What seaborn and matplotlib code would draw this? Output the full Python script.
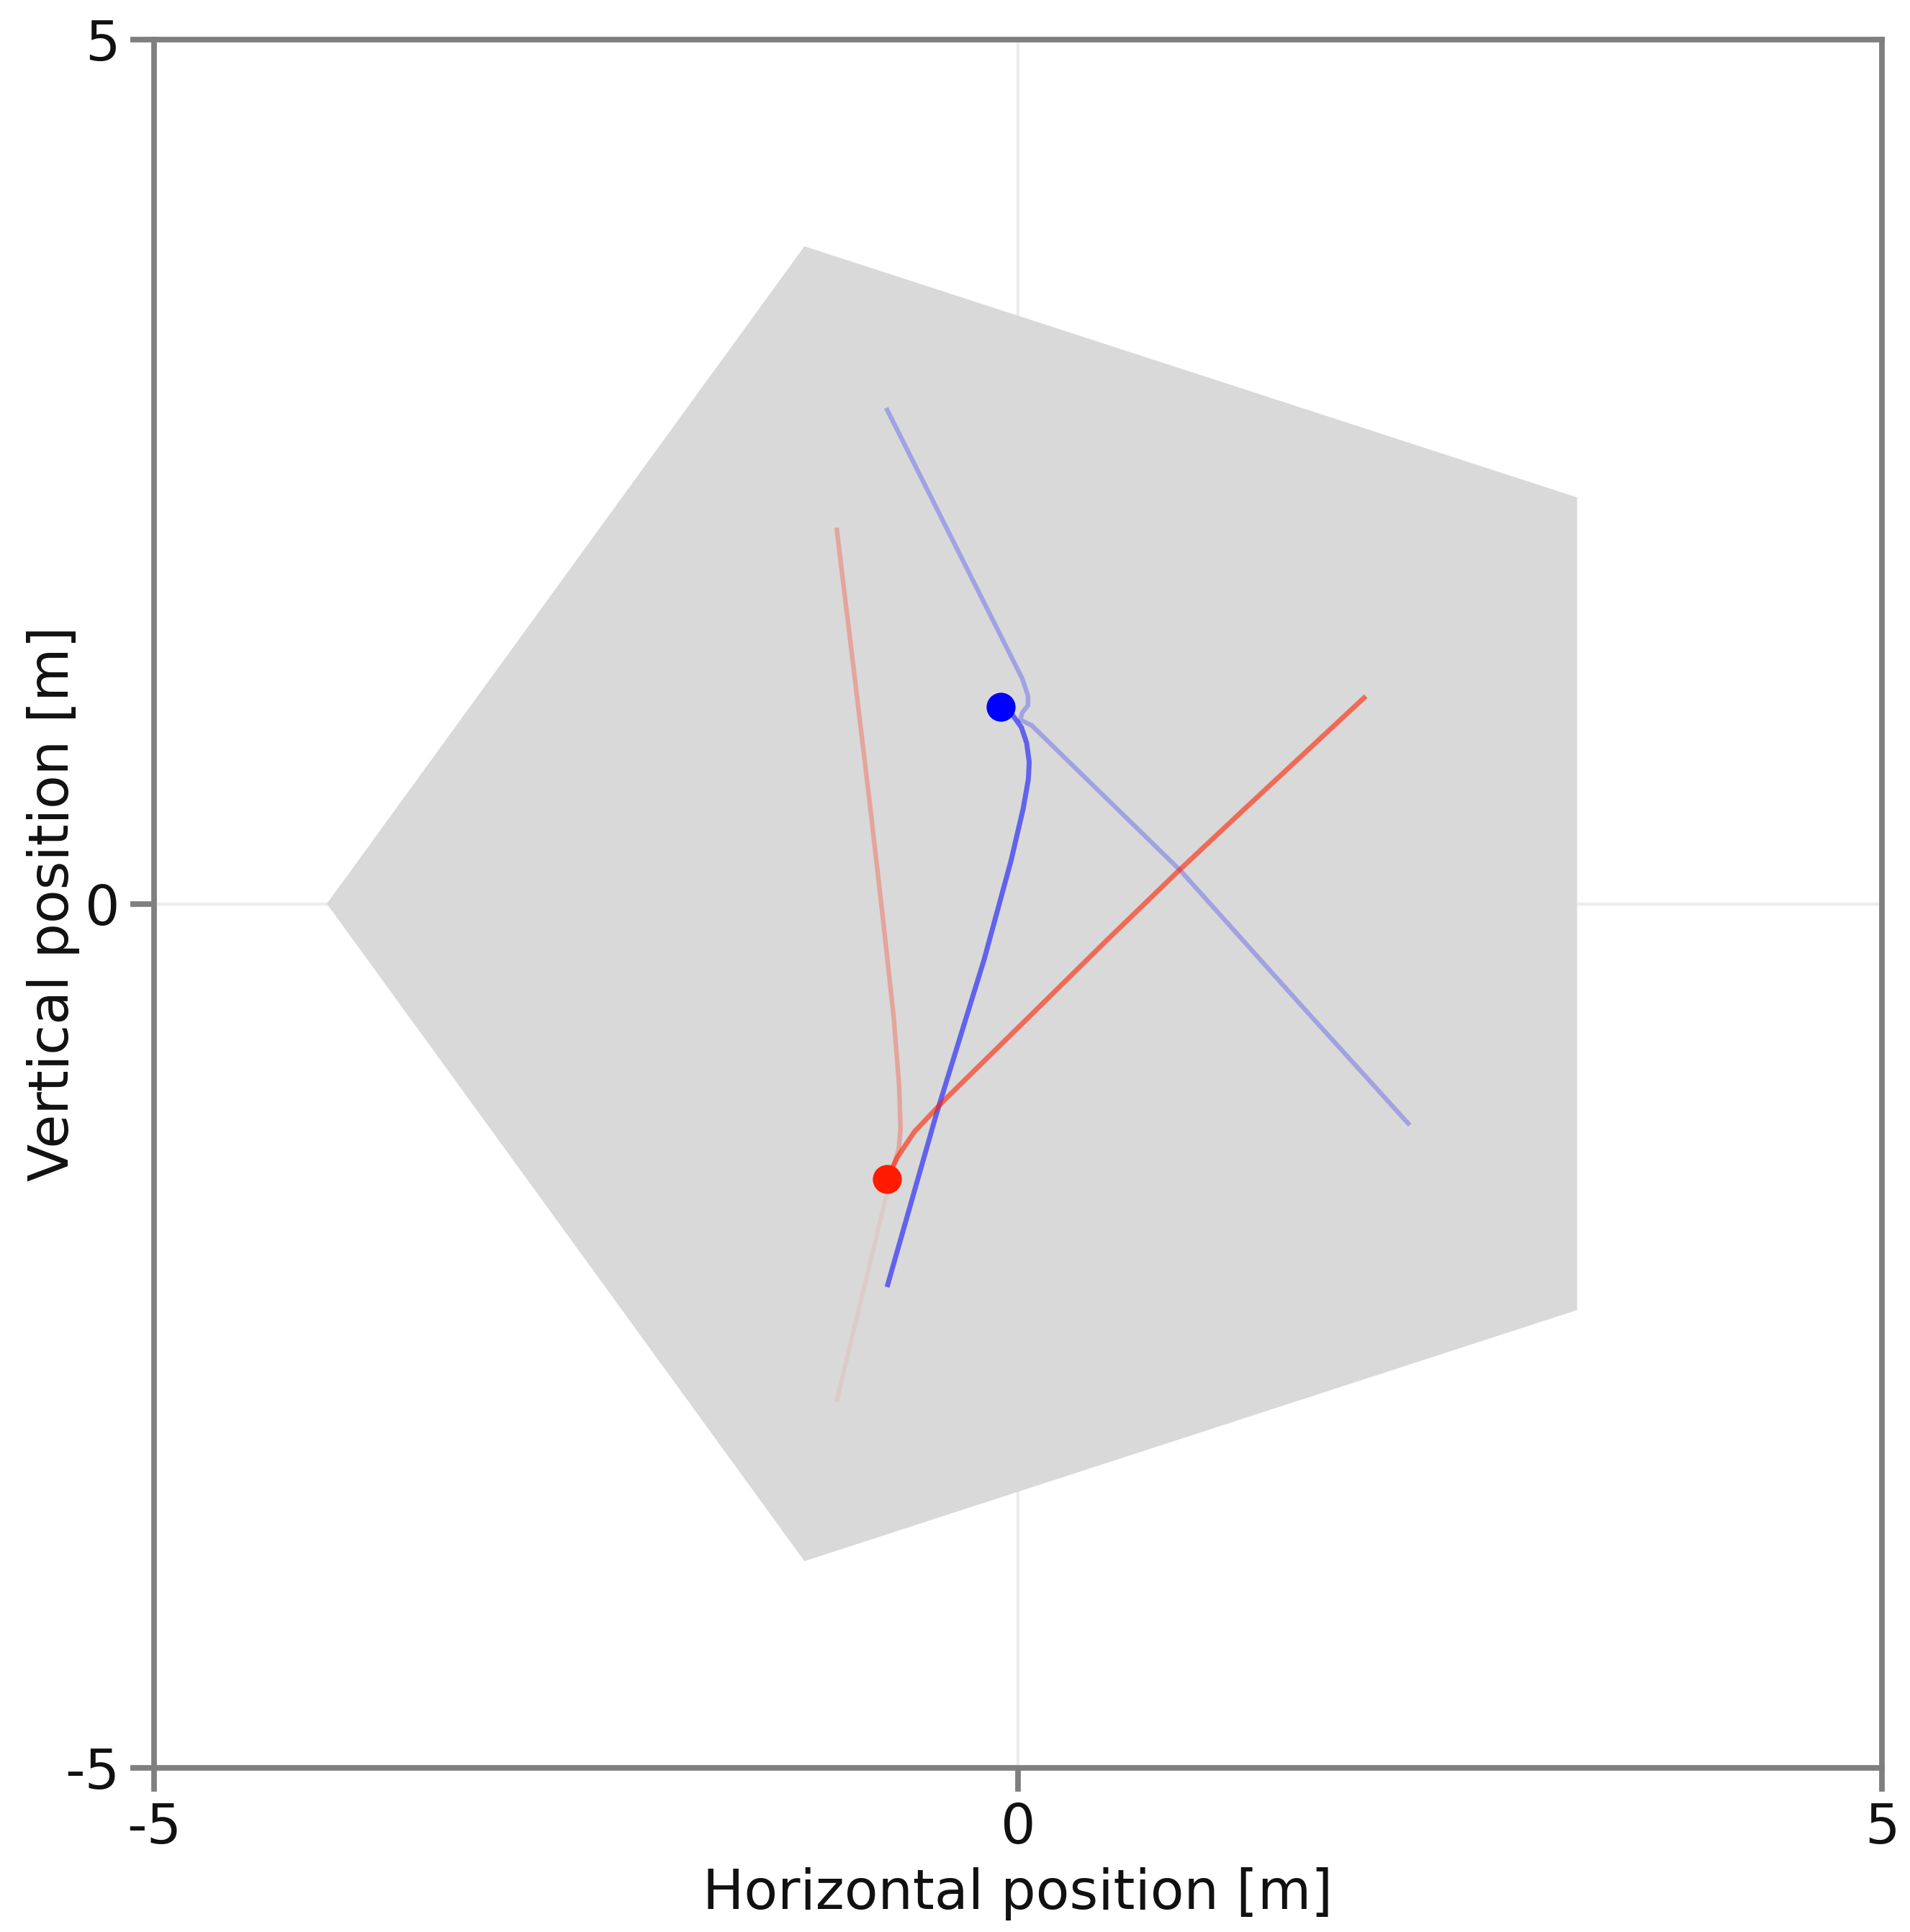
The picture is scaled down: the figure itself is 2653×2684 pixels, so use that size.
import matplotlib
matplotlib.use("Agg")
import matplotlib.pyplot as plt
import seaborn as sns
import pandas as pd

# ---- data ----
pentagon_x = [-4.0, -1.236, 3.236, 3.236, -1.236]
pentagon_y = [0.0, 3.804, 2.351, -2.351, -3.804]

blue_path_x = [-0.758, -0.475, -0.196, -0.040, 0.030, 0.060, 0.065, 0.050, 0.020, -0.030, -0.100]
blue_path_y = [-2.218, -1.226, -0.323, 0.250, 0.550, 0.720, 0.820, 0.930, 1.020, 1.090, 1.139]

blue_ref_x = [-0.763, 0.025, 0.058, 0.058, 0.025, 0.013, 0.079, 0.942, 1.650, 2.267]
blue_ref_y = [2.869, 1.302, 1.202, 1.148, 1.106, 1.064, 1.032, 0.190, -0.600, -1.281]

red_path_x = [-0.758, -0.700, -0.600, -0.433, 0.079, 0.500, 0.929, 1.329, 2.013]
red_path_y = [-1.593, -1.470, -1.320, -1.143, -0.640, -0.225, 0.190, 0.565, 1.201]

red_ref_x = [-1.050, -0.950, -0.860, -0.780, -0.720, -0.688, -0.680, -0.690, -0.720]
red_ref_y = [2.176, 1.350, 0.600, -0.100, -0.650, -1.050, -1.300, -1.420, -1.520]

red_tail_x = [-0.760, -0.905, -1.050]
red_tail_y = [-1.680, -2.280, -2.880]

blue_dot_x = [-0.10]
blue_dot_y = [1.139]
red_dot_x = [-0.758]
red_dot_y = [-1.593]

xticks = [-5, 0, 5]
yticks = [-5, 0, 5]

# ---- style ----
sns.set_theme(style="white")
plt.rcParams["font.family"] = ["DejaVu Sans"]
plt.rcParams["axes.unicode_minus"] = False

DPI = 200
fig = plt.figure(figsize=(2653 / DPI, 2684 / DPI), dpi=DPI)
ax = fig.add_axes([214 / 2653, 1 - 2456 / 2684, 2400 / 2653, 2401 / 2684])
ax.set_facecolor("white")

# grid at zero
ax.axhline(0, color="#ededed", lw=1.6, zorder=0)
ax.axvline(0, color="#ededed", lw=1.6, zorder=0)

# pentagon
ax.fill(pentagon_x, pentagon_y, color="#d9d9d9", lw=0, zorder=1)

def line(xs, ys, color, alpha, lw):
    df = pd.DataFrame({"x": xs, "y": ys})
    sns.lineplot(data=df, x="x", y="y", sort=False, estimator=None, ax=ax,
                 color=color, alpha=alpha, lw=lw, zorder=3,
                 solid_joinstyle="round", solid_capstyle="butt")

line(red_tail_x, red_tail_y, "#ff2000", 0.07, 2.2)
line(red_ref_x, red_ref_y, "#ff2000", 0.28, 2.3)
line(blue_ref_x, blue_ref_y, "#0000ff", 0.25, 2.3)
line(blue_path_x, blue_path_y, "#0000ff", 0.55, 2.5)
line(red_path_x, red_path_y, "#ff2000", 0.6, 2.5)

sns.scatterplot(x=blue_dot_x, y=blue_dot_y, color="#0000ff", s=210, linewidth=0, ax=ax, zorder=5)
sns.scatterplot(x=red_dot_x, y=red_dot_y, color="#ff1a00", s=210, linewidth=0, ax=ax, zorder=5)

ax.set_xlim(-5, 5)
ax.set_ylim(-5, 5)
ax.set_xticks(xticks)
ax.set_yticks(yticks)
ax.set_xticklabels([str(t) for t in xticks])
ax.set_yticklabels([str(t) for t in yticks])

for s in ax.spines.values():
    s.set_color("#7f7f7f")
    s.set_linewidth(2.8)
    s.set_visible(True)

ax.tick_params(axis="both", which="both", direction="out", length=12, width=2.8,
               color="#7f7f7f", labelsize=27.5, labelcolor="#111111", pad=5,
               bottom=True, left=True, top=False, right=False)

ax.set_xlabel("Horizontal position [m]", fontsize=27.5, color="#111111")
ax.set_ylabel("Vertical position [m]", fontsize=27.5, color="#111111")
ax.xaxis.set_label_coords(0.5, -0.0729)
ax.yaxis.set_label_coords(-0.0583, 0.5)
ax.xaxis.label.set_va("center")
ax.yaxis.label.set_va("center")
ax.yaxis.label.set_ha("center")

fig.savefig("out.png", dpi=DPI, facecolor="white")
